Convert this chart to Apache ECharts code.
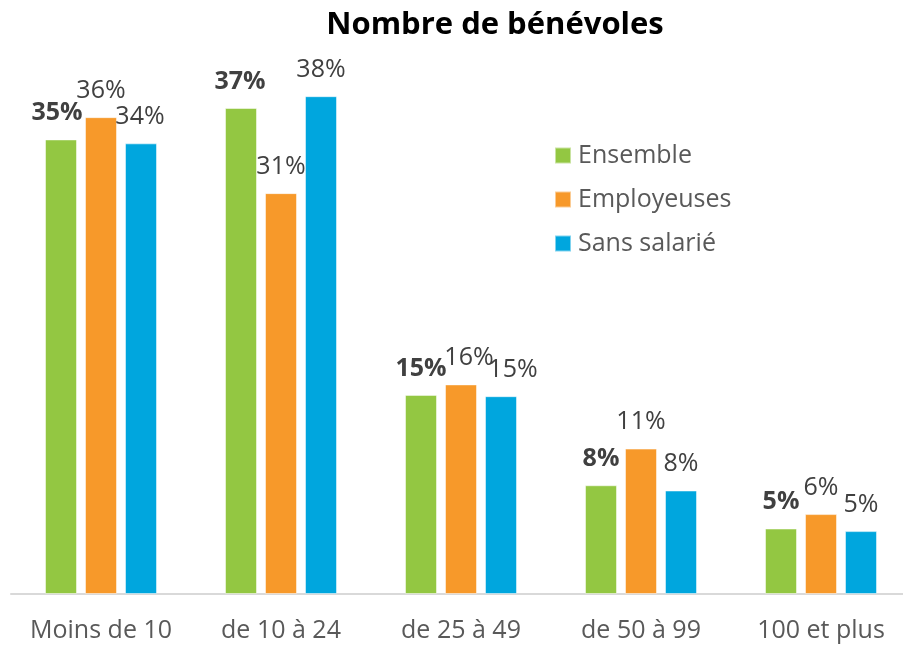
<!DOCTYPE html>
<html>
<head>
<meta charset="utf-8">
<script src="https://cdn.jsdelivr.net/npm/echarts@6/dist/echarts.min.js"></script>
<style>html,body{margin:0;padding:0;background:#fff;overflow:hidden;width:903px;height:646px;}#c{width:920px;height:646px;}</style>
</head>
<body>
<div id="c"></div>
<script>
const categories = ['Moins de 10', 'de 10 à 24', 'de 25 à 49', 'de 50 à 99', '100 et plus'];
const seriesNames = ['Ensemble', 'Employeuses', 'Sans salarié'];
const ensemble = [34.7, 37.1, 15.2, 8.3, 5.0];
const employeuses = [36.4, 30.6, 16.0, 11.1, 6.1];
const sansSalarie = [34.4, 38.0, 15.1, 7.9, 4.8];
const labelTexts = [
  ['35%', '37%', '15%', '8%', '5%'],
  ['36%', '31%', '16%', '11%', '6%'],
  ['34%', '38%', '15%', '8%', '5%']
];
const colors = ['#93C742', '#F7992A', '#00A6DE'];

const FONT = 'Open Sans';
const values = [ensemble, employeuses, sansSalarie];
const labelOffsets = [
  [[-4,0],[-1,0],[0,0],[0,0],[0,0]],
  [[0,0],[0,0],[8,0],[0,0],[0,0]],
  [[-1,0],[0,0],[12,0],[0,0],[0,0]]
];

const series = values.map((arr, si) => ({
  name: seriesNames[si],
  type: 'bar',
  barWidth: 32,
  barGap: '25%',
  itemStyle: { color: colors[si], borderColor: 'rgba(255,255,255,0.5)', borderWidth: 1 },
  data: arr.map((v, i) => ({
    value: v,
    label: { offset: labelOffsets[si][i] }
  })),
  label: {
    show: true,
    position: 'top',
    distance: 14,
    fontFamily: FONT,
    fontSize: 25,
    fontWeight: si === 0 ? 'bold' : 'normal',
    color: '#404040',
    formatter: p => labelTexts[si][p.dataIndex]
  }
}));

const chart = echarts.init(document.getElementById('c'));
chart.setOption({
  animation: false,
  color: colors,
  title: {
    text: 'Nombre de bénévoles',
    left: 490,
    textAlign: 'center',
    top: 5,
    textStyle: { fontFamily: FONT, fontSize: 31, fontWeight: 'bold', color: '#000' }
  },
  legend: {
    orient: 'vertical',
    left: 549,
    top: 138,
    itemWidth: 16,
    itemHeight: 16,
    itemGap: 19,
    icon: 'rect',
    textStyle: { fontFamily: FONT, fontSize: 25, color: '#595959', padding: [0,0,0,2] },
    data: seriesNames
  },
  grid: { left: 11, top: 70, width: 900, height: 524, containLabel: false },
  xAxis: {
    type: 'category',
    data: categories,
    axisLine: { lineStyle: { color: '#D9D9D9', width: 2 } },
    axisTick: { show: false },
    axisLabel: { interval: 0, fontFamily: FONT, fontSize: 25, color: '#595959', margin: 24 }
  },
  yAxis: {
    type: 'value',
    min: 0,
    max: 40,
    show: false,
    splitLine: { show: false }
  },
  series: series
});
</script>
</body>
</html>
